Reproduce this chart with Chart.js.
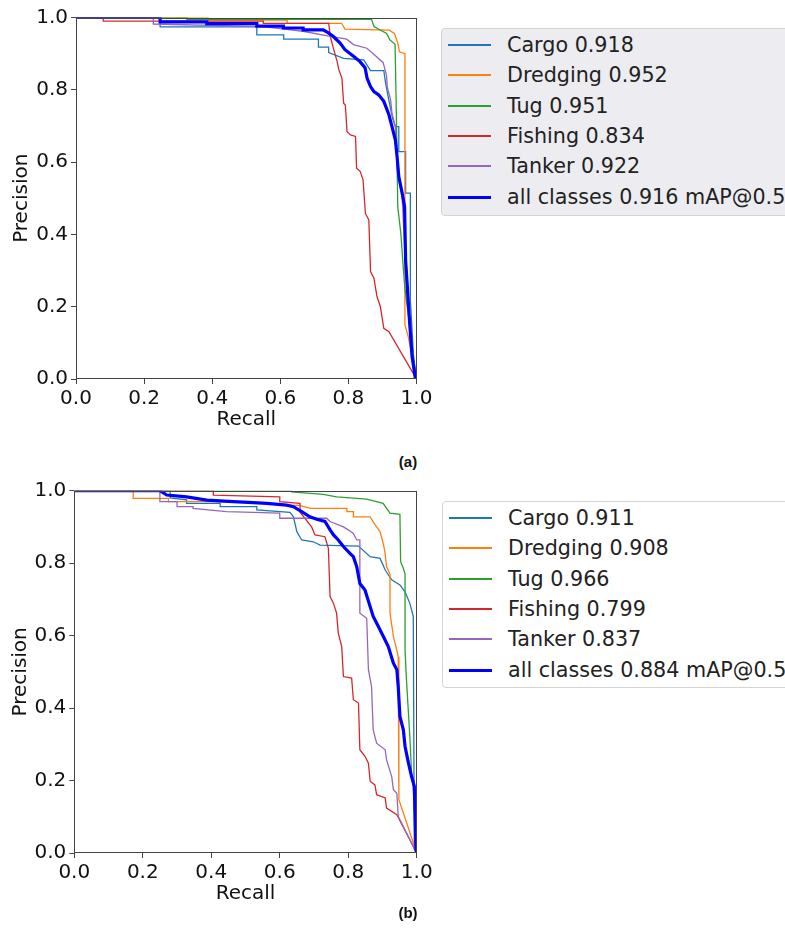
<!DOCTYPE html>
<html>
<head>
<meta charset="utf-8">
<title>Precision-Recall curves</title>
<script src="https://cdn.jsdelivr.net/npm/chart.js@4.4.1/dist/chart.umd.min.js"></script>
<style>
    html, body { margin: 0; padding: 0; background: #fff; }
    body { width: 785px; height: 941px; position: relative; overflow: hidden; font-family: "DejaVu Sans", sans-serif; }
    canvas { position: absolute; left: 0; }
    #chartA { top: 0; }
    #chartB { top: 470px; }
    .pr-legend { position: absolute; width: 400px; border: 1px solid #d4d4d4; border-radius: 4px; box-sizing: border-box; }
    #legendA { left: 441px; top: 28px; height: 188px; background: #ededf1; }
    #legendB { left: 442px; top: 501px; height: 187px; background: #fff; }
    .pr-legend-row { position: absolute; left: 6px; height: 30px; display: flex; align-items: center; font-size: 20.7px; color: #222; white-space: nowrap; }
    .pr-legend-line { display: block; flex: none; width: 43px; margin-right: 16px; }
    .caption { position: absolute; transform: translate(-50%, -50%); font-family: "Liberation Sans", Arial, sans-serif; font-weight: bold; font-size: 15px; color: #111; }
</style>
</head>
<body>
<canvas id="chartA" width="440" height="440"></canvas>
<canvas id="chartB" width="440" height="444"></canvas>
<div class="pr-legend" id="legendA"></div>
<div class="pr-legend" id="legendB"></div>
<div class="caption" style="left:408px; top:461px;">(a)</div>
<div class="caption" style="left:408px; top:912px;">(b)</div>

<script>
/* ================= DATA ================= */
const classNames = ['Cargo', 'Dredging', 'Tug', 'Fishing', 'Tanker'];
const apA = [0.918, 0.952, 0.951, 0.834, 0.922];
const apB = [0.911, 0.908, 0.966, 0.799, 0.837];
const mapA = 0.916;
const mapB = 0.884;
const tickValues = [0, 0.2, 0.4, 0.6, 0.8, 1.0];
const tickLabels = ['0.0', '0.2', '0.4', '0.6', '0.8', '1.0'];

// curves as [recall, precision] pairs
const cargoA = [[0,1],[0.247,1],[0.247,0.974],[0.531,0.974],[0.531,0.952],[0.61,0.952],[0.61,0.94],[0.712,0.94],[0.712,0.918],[0.742,0.918],[0.742,0.903],[0.786,0.887],[0.845,0.883],[0.865,0.853],[0.904,0.853],[0.909,0.82],[0.918,0.775],[0.93,0.72],[0.938,0.698],[0.948,0.698],[0.948,0.629],[0.968,0.629],[0.968,0.514],[0.982,0.514],[0.982,0.219],[0.992,0.05],[1,0]];
const dredgingA = [[0,1],[0.388,1],[0.388,0.993],[0.62,0.993],[0.62,0.984],[0.78,0.984],[0.79,0.968],[0.92,0.965],[0.935,0.956],[0.945,0.93],[0.95,0.905],[0.966,0.9],[0.966,0.15],[0.975,0.12],[1,0]];
const tugA = [[0,1],[0.326,1],[0.326,0.995],[0.868,0.995],[0.875,0.975],[0.912,0.956],[0.922,0.938],[0.937,0.926],[0.94,0.78],[0.945,0.476],[0.954,0.403],[0.961,0.31],[0.966,0.25],[1,0]];
const fishingA = [[0,1],[0.08,1],[0.08,0.99],[0.55,0.99],[0.55,0.984],[0.742,0.984],[0.747,0.947],[0.757,0.911],[0.767,0.878],[0.772,0.855],[0.781,0.832],[0.786,0.763],[0.791,0.758],[0.796,0.684],[0.806,0.675],[0.821,0.671],[0.824,0.583],[0.835,0.574],[0.843,0.551],[0.85,0.458],[0.86,0.44],[0.865,0.297],[0.875,0.279],[0.884,0.228],[0.894,0.2],[0.904,0.14],[0.919,0.131],[1,0]];
const tankerA = [[0,1],[0.227,1],[0.227,0.982],[0.55,0.975],[0.667,0.962],[0.746,0.948],[0.795,0.94],[0.815,0.925],[0.854,0.915],[0.873,0.9],[0.902,0.875],[0.912,0.84],[0.914,0.809],[0.919,0.79],[0.924,0.772],[0.928,0.735],[0.938,0.698],[0.943,0.588],[0.948,0.551],[0.958,0.5],[0.966,0.35],[0.975,0.2],[0.985,0.08],[1,0]];
const allA = [[0,1],[0.247,1],[0.247,0.988],[0.384,0.988],[0.384,0.983],[0.531,0.983],[0.531,0.976],[0.609,0.976],[0.609,0.971],[0.667,0.971],[0.667,0.966],[0.726,0.966],[0.74,0.958],[0.755,0.948],[0.775,0.93],[0.79,0.911],[0.815,0.893],[0.834,0.878],[0.849,0.861],[0.855,0.832],[0.865,0.809],[0.875,0.795],[0.889,0.786],[0.904,0.768],[0.919,0.731],[0.928,0.698],[0.938,0.661],[0.943,0.615],[0.948,0.56],[0.958,0.514],[0.965,0.477],[0.968,0.329],[0.973,0.256],[0.98,0.154],[0.987,0.062],[0.997,0],[1,0]];

const cargoB = [[0,1],[0.28,1],[0.28,0.98],[0.328,0.975],[0.328,0.965],[0.426,0.965],[0.426,0.956],[0.533,0.956],[0.533,0.947],[0.63,0.94],[0.64,0.928],[0.65,0.887],[0.664,0.864],[0.698,0.859],[0.718,0.85],[0.83,0.847],[0.864,0.818],[0.893,0.813],[0.908,0.781],[0.927,0.754],[0.951,0.74],[0.966,0.721],[0.98,0.689],[0.99,0.653],[0.993,0.01],[1,0]];
const dredgingB = [[0,1],[0.172,1],[0.172,0.979],[0.275,0.979],[0.275,0.97],[0.406,0.97],[0.5,0.968],[0.66,0.959],[0.69,0.951],[0.796,0.951],[0.796,0.942],[0.815,0.942],[0.815,0.928],[0.864,0.928],[0.873,0.914],[0.883,0.9],[0.893,0.887],[0.902,0.855],[0.907,0.832],[0.912,0.79],[0.922,0.77],[0.922,0.662],[0.932,0.597],[0.942,0.56],[0.946,0.542],[0.948,0.147],[1,0]];
const tugB = [[0,1],[0.635,1],[0.635,0.997],[0.727,0.99],[0.766,0.983],[0.854,0.977],[0.902,0.965],[0.922,0.938],[0.951,0.935],[0.953,0.804],[0.961,0.786],[0.966,0.77],[0.966,0.56],[0.97,0.48],[0.975,0.4],[0.98,0.32],[0.985,0.22],[0.99,0.18],[1,0]];
const fishingB = [[0,1],[0.406,1],[0.406,0.988],[0.6,0.983],[0.6,0.97],[0.659,0.965],[0.66,0.94],[0.693,0.9],[0.703,0.878],[0.732,0.873],[0.742,0.841],[0.747,0.708],[0.757,0.689],[0.766,0.662],[0.771,0.607],[0.781,0.57],[0.786,0.487],[0.81,0.483],[0.815,0.423],[0.83,0.414],[0.834,0.285],[0.849,0.267],[0.859,0.248],[0.864,0.198],[0.878,0.188],[0.883,0.161],[0.908,0.152],[0.912,0.124],[0.942,0.106],[1,0]];
const tankerB = [[0,1],[0.25,1],[0.25,0.97],[0.3,0.97],[0.3,0.956],[0.347,0.956],[0.347,0.951],[0.445,0.942],[0.6,0.938],[0.6,0.924],[0.737,0.924],[0.747,0.915],[0.786,0.9],[0.8,0.892],[0.815,0.882],[0.825,0.864],[0.834,0.864],[0.834,0.662],[0.854,0.648],[0.859,0.506],[0.868,0.46],[0.873,0.34],[0.883,0.303],[0.908,0.285],[0.912,0.257],[0.927,0.211],[0.932,0.175],[0.942,0.165],[0.946,0.101],[1,0]];
const allB = [[0,1],[0.25,1],[0.27,0.988],[0.328,0.983],[0.387,0.974],[0.464,0.97],[0.523,0.967],[0.562,0.965],[0.62,0.96],[0.64,0.956],[0.664,0.942],[0.688,0.928],[0.708,0.921],[0.732,0.915],[0.747,0.892],[0.757,0.878],[0.771,0.864],[0.786,0.846],[0.805,0.827],[0.815,0.818],[0.825,0.79],[0.834,0.744],[0.849,0.726],[0.864,0.68],[0.873,0.653],[0.888,0.625],[0.903,0.597],[0.917,0.57],[0.932,0.524],[0.942,0.506],[0.946,0.46],[0.951,0.377],[0.961,0.34],[0.966,0.294],[0.976,0.248],[0.985,0.211],[0.993,0.184],[0.998,0.01],[1,0]];

/* ================= STYLE ================= */
const classColors = ['#1f77b4', '#ff7f0e', '#2ca02c', '#d62728', '#9467bd'];
const allColor = '#0000ff';
const textColor = '#111';
const axisColor = '#444';
const fontFamily = '"DejaVu Sans", sans-serif';

function curveLabels(aps, mAP) {
    const labels = classNames.map((n, i) => n + ' ' + aps[i].toFixed(3));
    labels.push('all classes ' + mAP.toFixed(3) + ' mAP@0.5');
    return labels;
}

/* ================= FRAME (all four spines) ================= */
const framePlugin = {
    id: 'frame',
    afterDraw(chart) {
        const { ctx, chartArea: a } = chart;
        const l = Math.round(a.left) + 0.5, t = Math.round(a.top) + 0.5;
        const r = Math.round(a.right) - 0.5, b = Math.round(a.bottom) - 0.5;
        ctx.save();
        ctx.strokeStyle = axisColor;
        ctx.lineWidth = 1;
        ctx.strokeRect(l, t, r - l, b - t);
        ctx.restore();
    }
};

function axis(title, titlePad, fit) {
    return {
        type: 'linear',
        min: 0,
        max: 1,
        afterBuildTicks: s => { s.ticks = tickValues.map(v => ({ value: v })); },
        afterFit: fit,
        ticks: {
            callback: (v, i) => tickLabels[i],
            color: textColor,
            font: { family: fontFamily, size: 20 },
            padding: 3,
            maxRotation: 0,
            autoSkip: false
        },
        grid: { drawOnChartArea: false, drawTicks: true, tickLength: 5, color: axisColor },
        border: { display: false },
        title: { display: true, text: title, color: textColor, font: { family: fontFamily, size: 20 }, padding: titlePad }
    };
}

function makeChart(id, curves, labels, geom) {
    const datasets = curves.map((pts, i) => ({
        label: labels[i],
        data: pts.map(p => ({ x: p[0], y: p[1] })),
        borderColor: i < 5 ? classColors[i] : allColor,
        borderWidth: i < 5 ? 1.3 : 3.2,
        pointRadius: 0,
        tension: 0,
        fill: false,
        order: curves.length - 1 - i
    }));

    new Chart(document.getElementById(id), {
        type: 'line',
        data: { datasets },
        options: {
            responsive: false,
            animation: false,
            devicePixelRatio: 1,
            layout: { padding: { top: geom.top, right: geom.right, left: 0, bottom: 0 } },
            plugins: { legend: { display: false }, tooltip: { enabled: false } },
            scales: {
                x: axis('Recall', { top: 0, bottom: 8 }, s => { s.height = 61; }),
                y: axis('Precision', { top: geom.yTitle, bottom: 0 }, s => { s.width = geom.left; })
            }
        },
        plugins: [framePlugin]
    });
}

function buildLegend(id, labels) {
    const box = document.getElementById(id);
    labels.forEach((text, i) => {
        const row = document.createElement('div');
        row.className = 'pr-legend-row';
        row.style.top = Math.round(1 + 30.3 * i) + 'px';
        const line = document.createElement('span');
        line.className = 'pr-legend-line';
        line.style.height = i < 5 ? '2px' : '3px';
        line.style.background = i < 5 ? classColors[i] : allColor;
        row.appendChild(line);
        row.appendChild(document.createTextNode(text));
        box.appendChild(row);
    });
}

document.addEventListener('DOMContentLoaded', function () {
    const labelsA = curveLabels(apA, mapA);
    const labelsB = curveLabels(apB, mapB);

    makeChart('chartA', [cargoA, dredgingA, tugA, fishingA, tankerA, allA], labelsA,
        { top: 17.5, right: 23.5, left: 76, yTitle: 10 });
    makeChart('chartB', [cargoB, dredgingB, tugB, fishingB, tankerB, allB], labelsB,
        { top: 20.7, right: 23.3, left: 74.3, yTitle: 8.7 });

    buildLegend('legendA', labelsA);
    buildLegend('legendB', labelsB);
});
</script>
</body>
</html>
